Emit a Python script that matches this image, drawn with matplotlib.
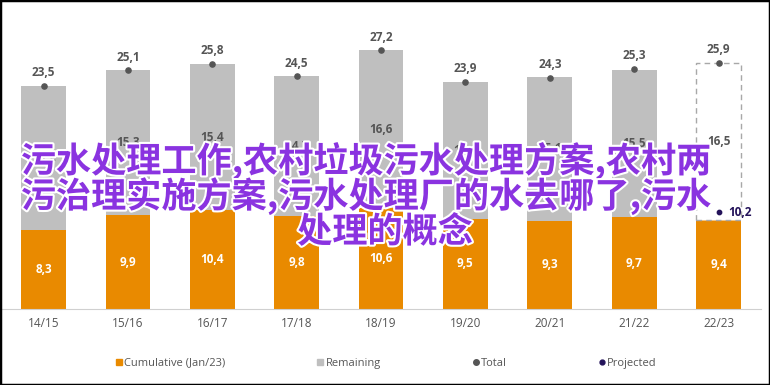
import numpy as np
import matplotlib
matplotlib.use("Agg")
import matplotlib.pyplot as plt
import matplotlib.patheffects as pe
from matplotlib.patches import Rectangle
from matplotlib.lines import Line2D

seasons = ["14/15", "15/16", "16/17", "17/18", "18/19", "19/20", "20/21", "21/22", "22/23"]
cumulative = [8.3, 9.9, 10.4, 9.8, 10.6, 9.5, 9.3, 9.7, 9.4]
remaining = [15.2, 15.3, 15.4, 14.7, 16.6, 14.4, 15.1, 15.5, 16.5]
total = [23.5, 25.1, 25.8, 24.5, 27.2, 23.9, 24.3, 25.3, 25.9]
projected = 10.2
overlay_lines = ["污水处理工作,农村垃圾污水处理方案,农村两",
                 "污治理实施方案,污水处理厂的水去哪了,污水",
                 "处理的概念"]

orange = "#E98A00"
grey = "#BFBFBF"
dark = "#555555"
navy = "#24135A"

plt.rcParams['font.family'] = ['Open Sans', 'DejaVu Sans']

fig = plt.figure(figsize=(7.7, 3.85), dpi=100)
ax = fig.add_axes([0.003, 0.197, 0.985, 0.741])

x = np.arange(len(seasons))
w = 0.53
last = len(seasons) - 1

def fmt(v):
    return f"{v:.1f}".replace(".", ",")

ax.bar(x, cumulative, w, color=orange, zorder=2)
# remaining stacks, the current season is an open dashed box
ax.bar(x[:last], remaining[:last], w, bottom=cumulative[:last], color=grey, zorder=2)
ax.bar(x[last], remaining[last], w, bottom=cumulative[last], facecolor="white",
       edgecolor="#A8A8A8", linestyle=(0, (4, 3)), linewidth=1, zorder=2)

ax.scatter(x, total, s=14, color=dark, zorder=4)
ax.scatter([x[last]], [projected], s=10, color=navy, zorder=4)

for i in x:
    ax.text(i, cumulative[i] / 2, fmt(cumulative[i]), ha="center", va="center",
            color="white", fontsize=8.5, fontweight="bold", zorder=5)
    ax.text(i, cumulative[i] + remaining[i] / 2, fmt(remaining[i]), ha="center",
            va="center", color=dark, fontsize=8.5, fontweight="bold", zorder=5)
    ax.text(i, total[i] + 0.7, fmt(total[i]), ha="center", va="bottom",
            color=dark, fontsize=8.5, fontweight="bold", zorder=5)
ax.text(x[last] + 0.12, projected, fmt(projected), ha="left", va="center",
        color=navy, fontsize=8.5, fontweight="bold", zorder=5)

ax.set_xlim(-0.49, 8.5)
ax.set_ylim(0, 30)
ax.set_xticks(x)
ax.set_xticklabels(seasons, color=dark, fontsize=8.5)
ax.tick_params(axis="x", length=0, pad=6)
ax.set_yticks([])
for s in ["top", "left", "right"]:
    ax.spines[s].set_visible(False)
ax.spines["bottom"].set_color("#D0D0D0")

handles = [
    Line2D([], [], marker="s", color=orange, linestyle="none", markersize=5),
    Line2D([], [], marker="s", color=grey, linestyle="none", markersize=5),
    Line2D([], [], marker="o", color=dark, linestyle="none", markersize=4),
    Line2D([], [], marker="o", color=navy, linestyle="none", markersize=3.5),
]
labels = ["Cumulative (Jan/23)", "Remaining", "Total", "Projected"]
leg = fig.legend(handles, labels, loc="center", bbox_to_anchor=(0.501, 0.057), ncol=4,
                 frameon=False, fontsize=8, handletextpad=0.1, columnspacing=8.2,
                 handlelength=0.7)
for t in leg.get_texts():
    t.set_color(dark)

# overlaid headline text
line_pos = [(366, 161), (366, 196), (385, 232)]
for txt, (px, py) in zip(overlay_lines, line_pos):
    fig.text(px / 770, 1 - py / 385, txt, ha="center", va="center",
             color="#8A33E0", fontsize=25.3, fontweight="bold",
             family=["Noto Sans CJK SC", "DejaVu Sans"],
             path_effects=[pe.withStroke(linewidth=3, foreground="white")], zorder=10)

fig.patches.append(Rectangle((0, 0), 1, 1, transform=fig.transFigure, fill=False,
                             edgecolor="black", linewidth=2.5, zorder=20))

fig.savefig("out.png", dpi=100)
